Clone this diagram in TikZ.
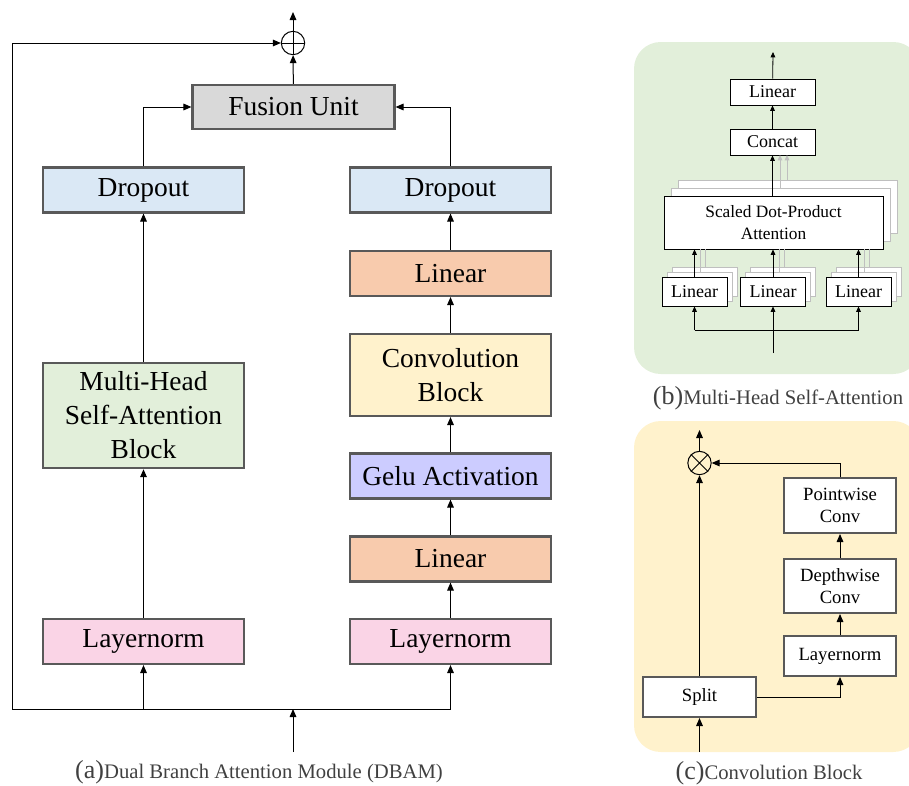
\documentclass[tikz,border=0pt]{standalone}
\usepackage{fontspec}
\setmainfont{Liberation Serif}
\usetikzlibrary{arrows.meta,calc}
\definecolor{boxgray}{HTML}{595959}
\definecolor{fusfill}{HTML}{D9D9D9}
\definecolor{dropfill}{HTML}{DAE8F5}
\definecolor{linfill}{HTML}{F8CBAD}
\definecolor{convfill}{HTML}{FFF2CC}
\definecolor{gelufill}{HTML}{CCCCFF}
\definecolor{lnfill}{HTML}{FAD4E6}
\definecolor{mhfill}{HTML}{E2EFDA}
\definecolor{bgG}{HTML}{E2EFDA}
\definecolor{bgY}{HTML}{FFF2CC}
\definecolor{layergray}{HTML}{BFBFBF}
\definecolor{capgray}{HTML}{404040}
\tikzset{
  mbox/.style={draw=boxgray, line width=1.6pt, inner sep=0pt, align=center,
    font=\fontsize{20.6}{25.5}\selectfont, minimum width=150.75pt, minimum height=33.75pt},
  bbox/.style={draw=black, line width=0.7pt, fill=white, inner sep=0pt, align=center,
    font=\fontsize{13.5}{16.5}\selectfont},
  cbox/.style={draw=boxgray, line width=1.5pt, fill=white, inner sep=0pt, align=center,
    font=\fontsize{14}{16}\selectfont, minimum width=84pt},
  layer/.style={draw=layergray, line width=0.7pt, fill=white},
  arr/.style={-{Triangle[length=6pt,width=5pt]}, line width=0.75pt},
  arrs/.style={-{Triangle[length=4pt,width=3.5pt]}, line width=0.6pt},
  garr/.style={-{Triangle[length=4pt,width=3.5pt]}, line width=0.6pt, draw=layergray},
  gline/.style={line width=0.6pt, draw=layergray},
  opnode/.style={circle, draw=black, line width=0.75pt, minimum size=17.5pt, inner sep=0pt},
  capt/.style={text=capgray, inner sep=0pt, anchor=center}
}
\begin{document}
\begin{tikzpicture}[x=0.75pt,y=-0.75pt]
\useasboundingbox (0,0) rectangle (909,785);

% ================= Panel (a) =================
\node[mbox, fill=fusfill, minimum width=151.5pt, minimum height=33pt] (fu) at (293.5,107) {Fusion Unit};
\node[opnode] (op) at (293,43) {};
\draw[line width=0.75pt] (op.north) -- (op.south) (op.west) -- (op.east);

\node[mbox, fill=dropfill] (drL) at (143.5,190) {Dropout};
\node[mbox, fill=dropfill] (drR) at (450.5,190) {Dropout};
\node[mbox, fill=linfill] (li1) at (450.5,273.5) {Linear};
\node[mbox, fill=convfill, minimum height=61.5pt] (cv) at (450.5,375) {Convolution\\Block};
\node[mbox, fill=gelufill] (ge) at (450.5,476) {Gelu Activation};
\node[mbox, fill=linfill] (li2) at (450.5,559) {Linear};
\node[mbox, fill=lnfill] (lnR) at (450.5,641.5) {Layernorm};
\node[mbox, fill=lnfill] (lnL) at (143.5,641.5) {Layernorm};
\node[mbox, fill=mhfill, minimum height=79pt, font=\fontsize{20.6}{25.5}\selectfont] (mh) at (143.5,415.5) {Multi-Head\\Self-Attention\\Block};

\coordinate (busL) at (12,709);
\coordinate (busR) at (450.5,709);
\coordinate (bj1) at (143.5,709);
\coordinate (bjm) at (293,709);
\coordinate (inA) at (293,752);
\coordinate (outA) at (293,12);

\draw[line width=0.75pt] (busL) -- (busR);
\draw[arr] (busL) |- (op.west);
\draw[arr] (inA) -- (bjm);
\draw[arr] (bj1) -- (lnL);
\draw[arr] (busR) -- (lnR);
\draw[arr] (lnL) -- (mh);
\draw[arr] (mh) -- (drL);
\draw[arr] (lnR) -- (li2);
\draw[arr] (li2) -- (ge);
\draw[arr] (ge) -- (cv);
\draw[arr] (cv) -- (li1);
\draw[arr] (li1) -- (drR);
\draw[arr] (drL.north) |- (fu.west);
\draw[arr] (drR.north) |- (fu.east);
\draw[arr] (fu) -- (op);
\draw[arr] (op) -- (outA);

\node[capt] (capA) at (259,772) {{\fontsize{19.5}{20}\selectfont(a)}{\fontsize{15.5}{18}\selectfont Dual Branch Attention Module (DBAM)}};

% ================= Panel (b) =================
\fill[bgG, rounded corners=20pt] (634,42) rectangle (920,374);

\node[bbox, minimum width=63.75pt, minimum height=19.5pt] (blin) at (772.5,92) {Linear};
\node[bbox, minimum width=63.75pt, minimum height=19.5pt] (bcat) at (772.5,142) {Concat};

% SDPA stacked layers
\draw[layer] (678,180) rectangle (897,233);
\draw[layer] (671,188) rectangle (890,241);
\node[bbox, minimum width=164.25pt, minimum height=39.75pt, font=\fontsize{13}{16.5}\selectfont] (sd) at (773.5,222.5) {Scaled Dot-Product\\Attention};

% Linear stacks
\foreach \cx in {694.5,773,858.5}{
  \draw[layer] (\cx-32.5+10,277-10) rectangle (\cx+32.5+10,306-10);
  \draw[layer] (\cx-32.5+5,277-5) rectangle (\cx+32.5+5,306-5);
}
\node[bbox, minimum width=48.75pt, minimum height=21.75pt] (lq) at (694.5,291.5) {Linear};
\node[bbox, minimum width=48.75pt, minimum height=21.75pt] (lk) at (773,291.5) {Linear};
\node[bbox, minimum width=48.75pt, minimum height=21.75pt] (lv) at (858.5,291.5) {Linear};

% gray helper lines (back heads)
\foreach \cx in {694.5,773,858.5}{
  \draw[gline] (\cx+6,272) -- (\cx+6,249);
  \draw[gline] (\cx+11,267) -- (\cx+11,249);
}
\draw[garr] (780,188) -- (780,155);
\draw[garr] (787,180) -- (787,155);

\coordinate (bbus) at (773,330);
\coordinate (binp) at (773,353);
\coordinate (bout) at (773,52);
\draw[line width=0.6pt] (lq.south |- bbus) -- (lv.south |- bbus);
\draw[arrs] (binp) -- (lk.south);
\draw[arrs] (lq.south |- bbus) -- (lq.south);
\draw[arrs] (lv.south |- bbus) -- (lv.south);
\draw[arrs] (lq.north) -- (lq.north |- sd.south);
\draw[arrs] (lk.north) -- (lk.north |- sd.south);
\draw[arrs] (lv.north) -- (lv.north |- sd.south);
\draw[arrs] (sd.north -| bcat) -- (bcat.south);
\draw[arrs] (bcat) -- (blin);
\draw[arrs] (blin) -- (bout);

\node[capt] (capB) at (778,398) {{\fontsize{19.5}{20}\selectfont(b)}{\fontsize{15.5}{18}\selectfont Multi-Head Self-Attention}};

% ================= Panel (c) =================
\fill[bgY, rounded corners=20pt] (634,421) rectangle (920,752);

\node[cbox, minimum width=84.75pt, minimum height=30pt] (sp) at (699.5,697) {Split};
\node[cbox, minimum height=30pt] (lnc) at (840,656) {Layernorm};
\node[cbox, minimum height=40.5pt] (dw) at (840,586) {Depthwise\\Conv};
\node[cbox, minimum height=41.25pt] (pw) at (840,505.5) {Pointwise\\Conv};
\node[opnode] (ot) at (699.5,463) {};
\draw[line width=0.75pt] (ot.north west) -- (ot.south east) (ot.north east) -- (ot.south west);

\coordinate (cin) at (699.5,752);
\coordinate (cout) at (699.5,430);
\draw[arr] (cin) -- (sp);
\draw[arr] (sp) -- (ot);
\draw[arr] (ot) -- (cout);
\draw[arr] (sp.east) -| (lnc.south);
\draw[arr] (lnc) -- (dw);
\draw[arr] (dw) -- (pw);
\draw[arr] (pw.north) |- (ot.east);

\node[capt] (capC) at (769,773) {{\fontsize{19.5}{20}\selectfont(c)}{\fontsize{15.5}{18}\selectfont Convolution Block}};
\end{tikzpicture}
\end{document}
